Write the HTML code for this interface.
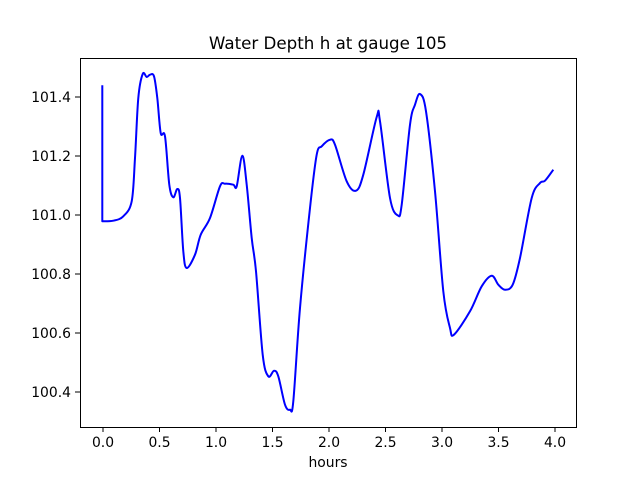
<!DOCTYPE html>
<html><head><meta charset="utf-8"><style>body{margin:0;background:#fff}svg{display:block}text{font-family:"DejaVu Sans","Liberation Sans",sans-serif;font-size:13.9px;fill:#000}</style></head><body>
<svg width="640" height="480" viewBox="0 0 640 480">
<rect width="640" height="480" fill="#fff"/>
<text x="328" y="49" text-anchor="middle" style="font-size:16.7px">Water Depth h at gauge 105</text>
<path id="c" fill="none" stroke="#0000ff" stroke-width="2" stroke-linejoin="round" d=""/>
<rect x="80.5" y="58.5" width="496" height="369" fill="none" stroke="#000" stroke-width="1"/>
<g stroke="#000" stroke-width="1">
<line x1="103" y1="427" x2="103" y2="432"/><line x1="159.5" y1="427" x2="159.5" y2="432"/><line x1="216" y1="427" x2="216" y2="432"/><line x1="272.5" y1="427" x2="272.5" y2="432"/><line x1="329" y1="427" x2="329" y2="432"/><line x1="385.5" y1="427" x2="385.5" y2="432"/><line x1="442" y1="427" x2="442" y2="432"/><line x1="498.5" y1="427" x2="498.5" y2="432"/><line x1="555" y1="427" x2="555" y2="432"/>
<line x1="75" y1="97" x2="80" y2="97"/><line x1="75" y1="156" x2="80" y2="156"/><line x1="75" y1="215" x2="80" y2="215"/><line x1="75" y1="274" x2="80" y2="274"/><line x1="75" y1="333" x2="80" y2="333"/><line x1="75" y1="392" x2="80" y2="392"/>
</g>
<g text-anchor="middle">
<text x="103" y="447">0.0</text><text x="159.5" y="447">0.5</text><text x="216" y="447">1.0</text><text x="272.5" y="447">1.5</text><text x="329" y="447">2.0</text><text x="385.5" y="447">2.5</text><text x="442" y="447">3.0</text><text x="498.5" y="447">3.5</text><text x="555" y="447">4.0</text>
<text x="328" y="467">hours</text>
</g>
<g text-anchor="end">
<text x="71" y="102">101.4</text><text x="71" y="161">101.2</text><text x="71" y="220">101.0</text><text x="71" y="279">100.8</text><text x="71" y="338">100.6</text><text x="71" y="397">100.4</text>
</g>
</svg>
<script>
var s="102.3,221.3 113.3,220.7 123.3,216.3 131.7,201.3 135,158 138.3,98 142.7,74 146.7,77 150,74.7 154,76.3 157.3,98 160.7,133 165,136.3 169.3,184.7 173.3,197.3 177.3,189 180,198 183.3,251.3 186.7,268 195,254.7 200.7,234.7 210,218 220,186.3 225,183.7 233.3,184.7 236.7,186.3 242.3,155.7 246.7,184.7 251.7,238 256,271.3 262.7,354.7 268.3,376.3 274,370.7 278.3,376.3 285,404.7 290,409.7 293.3,401.3 300,308 310,208 316.7,154.7 321.7,146.3 330,139.7 335,144.7 346.7,181.3 356,190.7 363.3,174.7 376.7,117 380,121.3 390,198 397.7,215.3 401.7,204.7 410,124.7 415,104.7 420,94 426,111.3 435,191.3 443.3,291.3 450,328 454,334.7 470,311.3 481.7,286.3 491.7,275.7 498.3,284.7 505,289.7 512.7,284.7 520,258 531.7,198 540,183 545,180.7 553.3,169.7";
var p=s.split(" ").map(function(a){return a.split(",").map(Number)});
var d="M102.3,85.3 L"+p[0][0]+","+p[0][1];
for(var i=0;i<p.length-1;i++){var p0=p[Math.max(0,i-1)],p1=p[i],p2=p[i+1],p3=p[Math.min(p.length-1,i+2)];
d+=" C"+(p1[0]+(p2[0]-p0[0])/6)+","+(p1[1]+(p2[1]-p0[1])/6)+" "+(p2[0]-(p3[0]-p1[0])/6)+","+(p2[1]-(p3[1]-p1[1])/6)+" "+p2[0]+","+p2[1];}
document.getElementById("c").setAttribute("d",d);
</script>
</body></html>
